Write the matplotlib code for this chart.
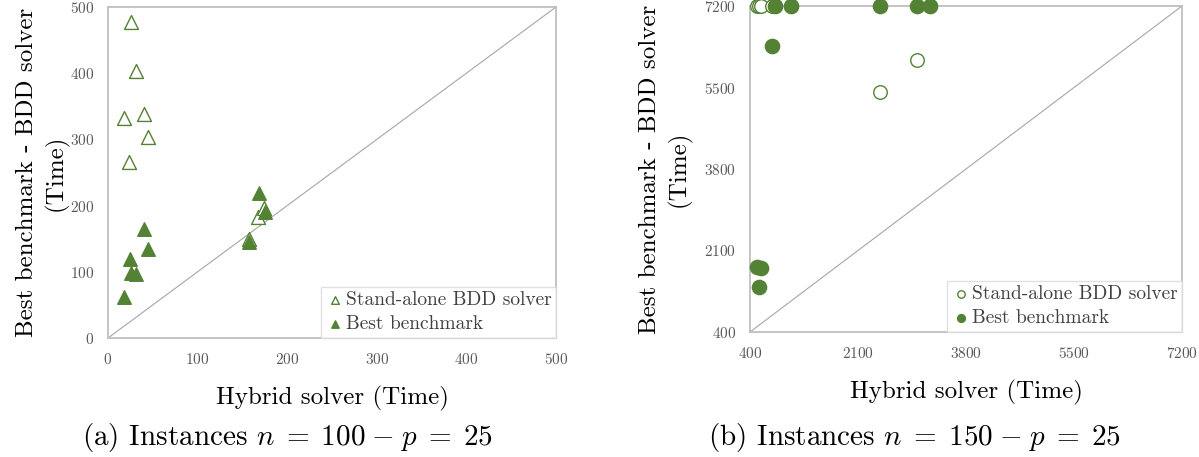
import matplotlib
matplotlib.use('Agg')
import matplotlib.pyplot as plt

plt.rcParams['font.family'] = 'serif'
plt.rcParams['font.serif'] = ['cmr10', 'DejaVu Serif']
plt.rcParams['mathtext.fontset'] = 'cm'
plt.rcParams['axes.unicode_minus'] = False
plt.rcParams['axes.formatter.use_mathtext'] = True

# --- data: (a) n = 100, p = 25
hyb_a = [26, 31, 18, 40, 45, 23, 167, 174, 157]
bdd_a = [477, 403, 332, 338, 304, 266, 183, 196, 150]
hyb_a2 = [168, 175, 157, 40, 45, 24, 26, 31, 18]
best_a = [219, 191, 145, 165, 134, 120, 98, 96, 62]

# --- data: (b) n = 150, p = 25
hyb_b = [505, 547, 568, 742, 794, 1046, 2447, 3025, 3235]
bdd_b = [7200, 7200, 7200, 7200, 7200, 7200, 5413, 6074, 7200]
best_b = [1762, 1345, 1729, 6366, 7200, 7200, 7200, 7200, 7200]

ticks_a = [0, 100, 200, 300, 400, 500]
ticks_b = [400, 2100, 3800, 5500, 7200]

green = '#548235'
grey = '#BFBFBF'
lab_col = '#595959'

fig = plt.figure(figsize=(11.99, 4.57), dpi=100)
ax1 = fig.add_axes([108/1199, 1-338/457, 448/1199, 331/457])
ax2 = fig.add_axes([750/1199, 1-332/457, 432/1199, 326/457])


def style(ax, ticks, ypad):
    ax.set_xlim(ticks[0], ticks[-1])
    ax.set_ylim(ticks[0], ticks[-1])
    ax.set_xticks(ticks)
    ax.set_yticks(ticks)
    ax.plot([ticks[0], ticks[-1]], [ticks[0], ticks[-1]], color='#A6A6A6', lw=0.8, zorder=1)
    for s in ax.spines.values():
        s.set_color(grey)
        s.set_linewidth(1.3)
    ax.tick_params(length=0, labelsize=11, colors=lab_col, pad=10)
    ax.set_xlabel('Hybrid solver (Time)', fontsize=18, labelpad=14)
    ax.set_ylabel('Best benchmark - BDD solver\n(Time)', fontsize=18, labelpad=ypad, linespacing=1.3)
    leg = ax.legend(loc='lower right', fontsize=14, fancybox=False, edgecolor='#D9D9D9',
                    borderaxespad=0.0, handletextpad=0.1, handlelength=0.9, borderpad=0.25,
                    labelspacing=0.3, markerscale=0.55)
    leg.get_frame().set_linewidth(1.0)
    for t in leg.get_texts():
        t.set_color('#404040')


ax1.scatter(hyb_a, bdd_a, marker='^', s=100, facecolors='white', edgecolors=green,
            linewidths=1.0, label='Stand-alone BDD solver', zorder=3, clip_on=False)
ax1.scatter(hyb_a2, best_a, marker='^', s=95, color=green, label='Best benchmark',
            zorder=4, clip_on=False)
style(ax1, ticks_a, 1)

ax2.scatter(hyb_b, bdd_b, marker='o', s=95, facecolors='white', edgecolors=green,
            linewidths=1.0, label='Stand-alone BDD solver', zorder=3, clip_on=False)
ax2.scatter(hyb_b, best_b, marker='o', s=105, color=green, label='Best benchmark',
            zorder=4, clip_on=False)
style(ax2, ticks_b, 9)

fig.text(288/1199, 1-437/457, r'(a) Instances $n\;{=}\;100\;{-}\;p\;{=}\;25$', fontsize=21,
         ha='center', va='center')
fig.text(914/1199, 1-437/457, r'(b) Instances $n\;{=}\;150\;{-}\;p\;{=}\;25$', fontsize=21,
         ha='center', va='center')

fig.savefig('out.png', dpi=100)
